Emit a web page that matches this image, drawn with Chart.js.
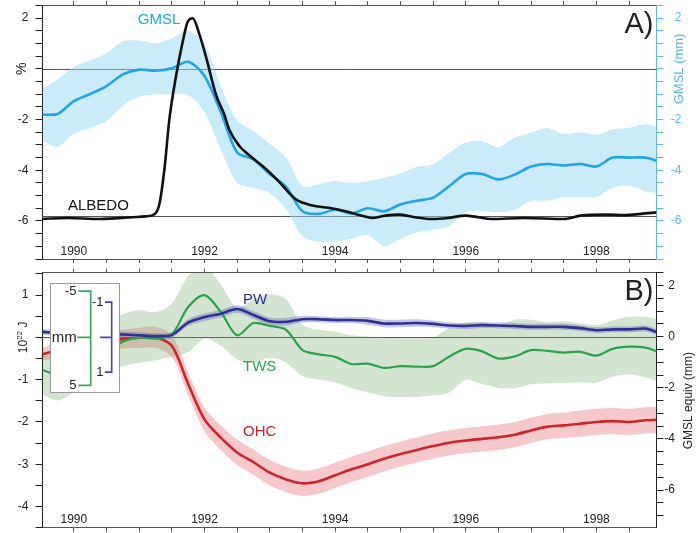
<!DOCTYPE html>
<html>
<head>
<meta charset="utf-8">
<script src="https://cdn.jsdelivr.net/npm/chart.js@4.4.1/dist/chart.umd.min.js"></script>
<style>
  html, body { margin: 0; padding: 0; background: #fff; }
  #wrap { position: relative; width: 700px; height: 533px; overflow: hidden; }
  canvas { position: absolute; left: 0; }
  #ca { top: 0; }
  #cb { top: 259px; }
</style>
</head>
<body>
<div id="wrap">
  <canvas id="ca" width="700" height="270"></canvas>
  <canvas id="cb" width="700" height="274"></canvas>
</div>
<script>
// time axis (decimal years)
const X_MIN = 1989.52
const X_MAX = 1998.92
const yearLabels = [1990, 1992, 1994, 1996, 1998]

const years = [1989.52, 1989.75, 1990.0, 1990.25, 1990.5, 1990.75, 1991.0, 1991.25, 1991.5, 1991.75,
  1992.0, 1992.25, 1992.5, 1992.75, 1993.0, 1993.25, 1993.5, 1993.75, 1994.0, 1994.25,
  1994.5, 1994.75, 1995.0, 1995.25, 1995.5, 1995.75, 1996.0, 1996.25, 1996.5, 1996.75,
  1997.0, 1997.25, 1997.5, 1997.75, 1998.0, 1998.25, 1998.5, 1998.75, 1998.92]

// panel A: GMSL (mm) with its uncertainty band
const gmsl = [-1.80, -1.78, -1.27, -0.99, -0.68, -0.22, -0.03, -0.07, 0.02, 0.28,
  -0.28, -1.70, -3.30, -3.57, -4.15, -4.65, -5.62, -5.72, -5.56, -5.70,
  -5.50, -5.62, -5.35, -5.20, -5.08, -4.62, -4.15, -4.15, -4.36, -4.17,
  -3.85, -3.75, -3.81, -3.75, -3.85, -3.50, -3.50, -3.50, -3.62]
const gmslHi = [-0.79, -0.42, 0.08, 0.34, 0.62, 1.08, 1.12, 1.01, 1.20, 1.50,
  0.98, -0.70, -2.05, -2.45, -2.95, -3.50, -4.62, -4.55, -4.42, -4.50,
  -4.42, -4.30, -4.12, -3.87, -3.76, -3.30, -2.90, -2.85, -3.09, -2.72,
  -2.52, -2.33, -2.56, -2.50, -2.60, -2.38, -2.32, -2.18, -2.28]
const gmslLo = [-2.83, -3.08, -2.55, -2.34, -2.05, -1.45, -1.10, -1.01, -1.01, -1.04,
  -1.70, -3.20, -4.50, -4.70, -4.90, -5.55, -6.60, -6.82, -6.80, -6.71,
  -6.55, -7.00, -6.70, -6.45, -6.35, -6.20, -5.65, -5.62, -5.66, -5.55,
  -5.21, -5.20, -5.06, -5.06, -5.05, -4.70, -4.60, -4.83, -4.91]

// panel A: albedo anomaly (%)
const albYears = [1989.52, 1989.9, 1990.4, 1990.9, 1991.1, 1991.24, 1991.31, 1991.39, 1991.46, 1991.57,
  1991.66, 1991.74, 1991.82, 1991.92, 1992.02, 1992.18, 1992.3, 1992.38, 1992.53, 1992.69,
  1992.94, 1993.14, 1993.39, 1993.65, 1993.9, 1994.16, 1994.41, 1994.56, 1994.77, 1994.97,
  1995.22, 1995.48, 1995.73, 1995.99, 1996.19, 1996.39, 1996.9, 1997.51, 1997.76, 1998.17,
  1998.43, 1998.68, 1998.92]
const albedo = [-5.92, -5.88, -5.92, -5.85, -5.82, -5.72, -5.33, -3.88, -2.04, -0.20,
  0.99, 1.84, 2.00, 1.38, 0.50, -1.05, -1.78, -2.40, -3.03, -3.42,
  -3.95, -4.45, -5.13, -5.39, -5.48, -5.62, -5.79, -5.88, -5.79, -5.75,
  -5.85, -5.92, -5.88, -5.79, -5.85, -5.92, -5.88, -5.92, -5.79, -5.75,
  -5.77, -5.72, -5.66]
const albedoBase = -5.82

// panel B: OHC (10^22 J), PW, TWS
const ohc = [-0.40, -0.30, -0.20, -0.12, -0.08, -0.04, -0.01, 0.00, -0.20, -1.10,
  -1.94, -2.37, -2.72, -2.95, -3.20, -3.36, -3.45, -3.40, -3.26, -3.12,
  -3.00, -2.87, -2.76, -2.66, -2.57, -2.49, -2.44, -2.40, -2.36, -2.30,
  -2.20, -2.11, -2.08, -2.04, -2.00, -1.98, -2.00, -1.96, -1.95]
const ohcErr = [0.15, 0.17, 0.19, 0.20, 0.21, 0.22, 0.24, 0.25, 0.26, 0.27,
  0.28, 0.29, 0.30, 0.30, 0.30, 0.30, 0.30, 0.30, 0.30, 0.30,
  0.30, 0.30, 0.30, 0.30, 0.30, 0.30, 0.30, 0.30, 0.30, 0.30,
  0.30, 0.30, 0.30, 0.31, 0.31, 0.31, 0.31, 0.31, 0.31]
const pw = [0.13, 0.11, 0.10, 0.09, 0.08, 0.07, 0.05, 0.03, 0.06, 0.35,
  0.48, 0.56, 0.67, 0.53, 0.38, 0.37, 0.43, 0.43, 0.41, 0.41,
  0.39, 0.33, 0.33, 0.34, 0.32, 0.28, 0.27, 0.29, 0.28, 0.27,
  0.25, 0.25, 0.25, 0.22, 0.17, 0.19, 0.19, 0.21, 0.13]
const pwErr = [0.07, 0.07, 0.07, 0.07, 0.07, 0.07, 0.07, 0.07, 0.07, 0.08,
  0.09, 0.09, 0.09, 0.09, 0.09, 0.09, 0.08, 0.07, 0.07, 0.07,
  0.09, 0.09, 0.09, 0.09, 0.08, 0.07, 0.07, 0.07, 0.07, 0.07,
  0.07, 0.07, 0.07, 0.07, 0.07, 0.07, 0.07, 0.07, 0.07]
const tws = [-0.77, -0.88, -0.70, -0.50, -0.35, -0.10, -0.01, -0.03, 0.07, 0.72,
  1.00, 0.60, 0.05, 0.34, 0.27, 0.18, -0.30, -0.40, -0.46, -0.63,
  -0.62, -0.72, -0.68, -0.69, -0.68, -0.45, -0.27, -0.33, -0.50, -0.45,
  -0.30, -0.32, -0.36, -0.34, -0.43, -0.27, -0.22, -0.24, -0.33]
const twsHi = [-0.40, -0.40, -0.30, 0.00, 0.35, 0.55, 0.65, 0.60, 0.80, 1.45,
  1.68, 1.25, 0.70, 0.90, 1.02, 0.90, 0.30, 0.18, 0.14, 0.05,
  0.02, 0.00, -0.02, -0.02, 0.00, 0.22, 0.36, 0.36, 0.29, 0.42,
  0.42, 0.36, 0.38, 0.33, 0.29, 0.40, 0.49, 0.48, 0.43]
const twsLo = [-1.35, -1.49, -1.30, -1.00, -0.80, -0.68, -0.60, -0.54, -0.46, -0.35,
  -0.03, -0.20, -0.52, -0.60, -0.48, -0.60, -0.92, -1.00, -1.06, -1.20,
  -1.30, -1.39, -1.41, -1.41, -1.37, -1.30, -1.00, -1.10, -1.20, -1.20,
  -1.11, -1.09, -1.08, -1.06, -1.07, -0.93, -0.88, -0.95, -1.03]


const FONT = '"Liberation Sans", Arial, Helvetica, sans-serif'
Chart.defaults.font.family = FONT
Chart.defaults.color = '#222'
Chart.defaults.elements.point.radius = 0
Chart.defaults.elements.line.tension = 0.3

const C_GMSL = '#1ea6e8'
const C_GMSL_AX = '#5db8e8'
const C_OHC = '#d2232a'
const C_PW = '#2f3192'
const C_TWS = '#2ba24c'

const pts = (xs, ys, d, s = 1) => xs.map((x, i) => ({ x, y: ys[i] + (d ? s * d[i] : 0) }))

const isEven = v => Math.abs(v % 2) < 1e-6
const isInt = v => Math.abs(v % 1) < 1e-6

// no label overhang: the plot boxes are pinned by the fixed axis sizes
const noPad = s => { s.paddingTop = 0; s.paddingBottom = 0; s.paddingLeft = 0; s.paddingRight = 0 }

function xAxis(pos, h, tl) {
  return {
    type: 'linear', position: pos, min: X_MIN, max: X_MAX,
    ticks: { display: false, stepSize: 0.5, includeBounds: false, autoSkip: false },
    grid: { drawOnChartArea: false, tickLength: tl, color: '#555' },
    border: { display: true, color: '#555' },
    afterFit: s => { s.height = h; noPad(s) }
  }
}

function yAxis(pos, min, max, w, color, fmt, cross, pad) {
  return {
    type: 'linear', position: pos, min, max,
    ticks: {
      stepSize: 0.5, includeBounds: false, autoSkip: false, color,
      padding: pad, crossAlign: cross, font: { size: 12 }, callback: fmt
    },
    grid: { drawOnChartArea: false, tickLength: 7, color },
    border: { display: true, color },
    afterFit: s => { s.width = w; noPad(s) }
  }
}

function hline(ctx, a, y, color) {
  const yy = Math.round(y) + 0.5
  ctx.strokeStyle = color
  ctx.lineWidth = 1
  ctx.beginPath()
  ctx.moveTo(a.left, yy)
  ctx.lineTo(a.right, yy)
  ctx.stroke()
}

function vtext(ctx, str, x, y, font, color) {
  ctx.save()
  ctx.translate(x, y)
  ctx.rotate(-Math.PI / 2)
  ctx.font = font
  ctx.fillStyle = color
  ctx.textAlign = 'center'
  ctx.textBaseline = 'middle'
  ctx.fillText(str, 0, 0)
  ctx.restore()
}

function text(ctx, str, x, y, font, color, align = 'left', base = 'middle') {
  ctx.font = font
  ctx.fillStyle = color
  ctx.textAlign = align
  ctx.textBaseline = base
  ctx.fillText(str, x, y)
}

function drawYears(ctx, chart, dy) {
  const xs = chart.scales.x
  yearLabels.forEach(yr => {
    text(ctx, String(yr), xs.getPixelForValue(yr), chart.chartArea.bottom - dy, '12px ' + FONT, '#222', 'center')
  })
}

// ---------- panel A ----------
const decoA = {
  id: 'decoA',
  beforeDatasetsDraw(chart) {
    const { ctx, chartArea: a, scales } = chart
    ctx.save()
    hline(ctx, a, scales.y.getPixelForValue(0), '#555')
    hline(ctx, a, scales.y.getPixelForValue(albedoBase), '#555')
    ctx.restore()
  },
  afterDatasetsDraw(chart) {
    const { ctx, chartArea: a, scales } = chart
    const xs = scales.x, ys = scales.y
    ctx.save()
    text(ctx, 'GMSL', xs.getPixelForValue(1990.98), ys.getPixelForValue(1.94), '15px ' + FONT, C_GMSL)
    text(ctx, 'ALBEDO', xs.getPixelForValue(1989.91), ys.getPixelForValue(-5.39), '15px ' + FONT, '#111')
    text(ctx, 'A)', a.right - 3, a.top + 28, '29px ' + FONT, '#222', 'right', 'alphabetic')
    drawYears(ctx, chart, 7)
    vtext(ctx, '%', 22, ys.getPixelForValue(0), '14px ' + FONT, '#222')
    vtext(ctx, 'GMSL (mm)', 679, scales.y1.getPixelForValue(0), '13px ' + FONT, C_GMSL_AX)
    ctx.restore()
  }
}

new Chart(document.getElementById('ca'), {
  type: 'line',
  data: {
    datasets: [
      { label: 'ALBEDO', data: pts(albYears, albedo), yAxisID: 'y', borderColor: '#111', borderWidth: 2.6,
        cubicInterpolationMode: 'monotone', fill: false, order: 0 },
      { label: 'GMSL', data: pts(years, gmsl), yAxisID: 'y1', borderColor: C_GMSL, borderWidth: 2.6, fill: false, order: 1 },
      { label: 'GMSL hi', data: pts(years, gmslHi), yAxisID: 'y1', borderWidth: 0, borderColor: 'rgba(0,0,0,0)',
        backgroundColor: 'rgba(150,215,243,0.5)', fill: '+1', order: 5 },
      { label: 'GMSL lo', data: pts(years, gmslLo), yAxisID: 'y1', borderWidth: 0, borderColor: 'rgba(0,0,0,0)', fill: false, order: 5 }
    ]
  },
  options: {
    responsive: false,
    animation: false,
    events: [],
    layout: { padding: { left: 0, right: 18.5, top: 0, bottom: 0 } },
    plugins: { legend: { display: false }, tooltip: { enabled: false } },
    scales: {
      x: xAxis('bottom', 11, 4),
      x2: xAxis('top', 5, 4),
      y: yAxis('left', -7.5, 2.52, 42.5, '#222', v => (isEven(v) && v !== 0) ? String(v) : '', 'near', 7),
      y1: yAxis('right', -7.5, 2.52, 25, C_GMSL_AX, v => (isEven(v) && v !== 0) ? String(v) : '', 'far', 4)
    }
  },
  plugins: [decoA]
})

// ---------- panel B ----------
const decoB = {
  id: 'decoB',
  beforeDatasetsDraw(chart) {
    const { ctx, chartArea: a, scales } = chart
    ctx.save()
    hline(ctx, a, scales.y.getPixelForValue(0), '#a3352f')
    ctx.restore()
  },
  afterDatasetsDraw(chart) {
    const { ctx, chartArea: a, scales } = chart
    const xs = scales.x, ys = scales.y
    const y0 = ys.getPixelForValue(0)
    ctx.save()

    // scale inset (mm equivalents for TWS and PW)
    const bx = Math.round(a.left + 7.5) + 0.5, by = Math.round(a.top + 10.6) + 0.5
    ctx.fillStyle = '#fff'
    ctx.fillRect(bx, by, 69, 109)
    ctx.strokeStyle = '#9a9a9a'
    ctx.lineWidth = 1
    ctx.strokeRect(bx, by, 69, 109)

    const gx = a.left + 48.2
    const gt = y0 - 46.3, gb = y0 + 48
    ctx.strokeStyle = '#3aa655'
    ctx.lineWidth = 1.6
    ctx.beginPath()
    ctx.moveTo(gx - 12.4, gt); ctx.lineTo(gx, gt); ctx.lineTo(gx, gb); ctx.lineTo(gx - 12.4, gb)
    ctx.moveTo(gx - 13.5, y0); ctx.lineTo(gx, y0)
    ctx.stroke()
    text(ctx, '-5', gx - 14.2, gt, '13px ' + FONT, '#222', 'right')
    text(ctx, '5', gx - 14.2, gb, '13px ' + FONT, '#222', 'right')
    text(ctx, 'mm', a.left + 9.2, y0, '15px ' + FONT, '#222')

    const px = a.left + 69.2
    const pt = y0 - 35.3, pb = y0 + 34.7
    ctx.strokeStyle = '#4646a8'
    ctx.beginPath()
    ctx.moveTo(px - 6.7, pt); ctx.lineTo(px, pt); ctx.lineTo(px, pb); ctx.lineTo(px - 6.7, pb)
    ctx.moveTo(px - 11.7, y0); ctx.lineTo(px, y0)
    ctx.stroke()
    text(ctx, '-1', px - 8.2, pt, '13px ' + FONT, '#222', 'right')
    text(ctx, '1', px - 8.2, pb, '13px ' + FONT, '#222', 'right')

    text(ctx, 'PW', xs.getPixelForValue(1992.59), ys.getPixelForValue(0.88), '15px ' + FONT, C_PW)
    text(ctx, 'TWS', xs.getPixelForValue(1992.59), ys.getPixelForValue(-0.69), '15px ' + FONT, C_TWS)
    text(ctx, 'OHC', xs.getPixelForValue(1992.59), ys.getPixelForValue(-2.23), '15px ' + FONT, C_OHC)
    text(ctx, 'B)', a.right - 3, a.top + 27.5, '29px ' + FONT, '#222', 'right', 'alphabetic')
    drawYears(ctx, chart, 7.7)

    // left title: 10^22 J
    ctx.save()
    ctx.translate(24, y0)
    ctx.rotate(-Math.PI / 2)
    ctx.fillStyle = '#222'
    ctx.textBaseline = 'middle'
    ctx.font = '12px ' + FONT
    const w1 = ctx.measureText('10').width, w3 = ctx.measureText(' J').width
    ctx.font = '8px ' + FONT
    const w2 = ctx.measureText('22').width
    let x0 = -(w1 + w2 + w3) / 2
    ctx.textAlign = 'left'
    ctx.font = '12px ' + FONT
    ctx.fillText('10', x0, 0)
    ctx.font = '8px ' + FONT
    ctx.fillText('22', x0 + w1, -4)
    ctx.font = '12px ' + FONT
    ctx.fillText(' J', x0 + w1 + w2, 0)
    ctx.restore()

    vtext(ctx, 'GMSL equiv (mm)', 689, scales.y1.getPixelForValue(-2.5), '12px ' + FONT, '#222')
    ctx.restore()
  }
}

new Chart(document.getElementById('cb'), {
  type: 'line',
  data: {
    datasets: [
      { label: 'PW', data: pts(years, pw), borderColor: C_PW, borderWidth: 2.6, fill: false, order: 0 },
      { label: 'TWS', data: pts(years, tws), borderColor: C_TWS, borderWidth: 2.2, fill: false, order: 1 },
      { label: 'OHC', data: pts(years, ohc), borderColor: C_OHC, borderWidth: 2.6, fill: false, order: 2 },
      { label: 'PW hi', data: pts(years, pw, pwErr, 1), borderWidth: 0, borderColor: 'rgba(0,0,0,0)',
        backgroundColor: 'rgba(90,90,180,0.35)', fill: '+1', order: 3 },
      { label: 'PW lo', data: pts(years, pw, pwErr, -1), borderWidth: 0, borderColor: 'rgba(0,0,0,0)', fill: false, order: 3 },
      { label: 'TWS hi', data: pts(years, twsHi), borderWidth: 0, borderColor: 'rgba(0,0,0,0)',
        backgroundColor: 'rgba(110,170,100,0.3)', fill: '+1', order: 4 },
      { label: 'TWS lo', data: pts(years, twsLo), borderWidth: 0, borderColor: 'rgba(0,0,0,0)', fill: false, order: 4 },
      { label: 'OHC hi', data: pts(years, ohc, ohcErr, 1), borderWidth: 0, borderColor: 'rgba(0,0,0,0)',
        backgroundColor: 'rgba(220,60,70,0.28)', fill: '+1', order: 5 },
      { label: 'OHC lo', data: pts(years, ohc, ohcErr, -1), borderWidth: 0, borderColor: 'rgba(0,0,0,0)', fill: false, order: 5 }
    ]
  },
  options: {
    responsive: false,
    animation: false,
    events: [],
    layout: { padding: { left: 0, right: 25, top: 0, bottom: 0 } },
    plugins: { legend: { display: false }, tooltip: { enabled: false } },
    scales: {
      x: xAxis('bottom', 5.3, 4),
      x2: xAxis('top', 13.7, 4),
      y: yAxis('left', -4.5, 1.53, 42.5, '#222', v => (isInt(v) && v !== 0) ? String(v) : '', 'near', 7),
      y1: yAxis('right', -7.47, 2.5, 18.5, '#222', v => isEven(v) ? String(v) : '', 'far', 4)
    }
  },
  plugins: [decoB]
})
</script>
</body>
</html>
